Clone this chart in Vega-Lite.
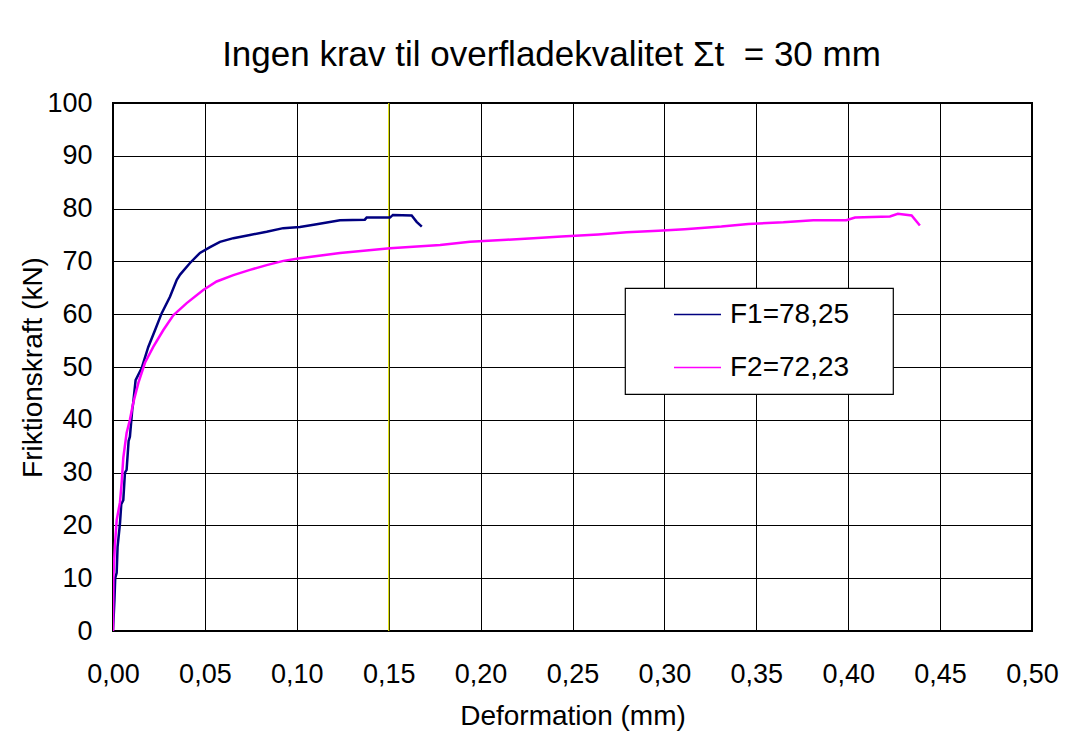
{
  "$schema": "https://vega.github.io/schema/vega-lite/v6.json",
  "width": 919,
  "height": 528,
  "autosize": {"type": "none"},
  "padding": {"left": 113, "top": 103, "right": 39, "bottom": 102},
  "background": "white",
  "title": {
    "text": "Ingen krav til overfladekvalitet Σt\u00a0 = 30 mm",
    "font": "Liberation Sans",
    "fontSize": 35,
    "fontWeight": "normal",
    "color": "black",
    "anchor": "middle",
    "frame": "group",
    "dx": -21,
    "offset": 16
  },
  "config": {
    "locale": {"number": {"decimal": ",", "thousands": ".", "grouping": [3], "currency": ["", " kr."]}},
    "view": {"stroke": "black", "strokeWidth": 2},
    "axis": {
      "labelFont": "Liberation Sans",
      "labelFontSize": 27,
      "labelColor": "black",
      "titleFont": "Liberation Sans",
      "titleFontSize": 28,
      "titleFontWeight": "normal",
      "titleColor": "black",
      "grid": true,
      "gridColor": "black",
      "gridWidth": 1,
      "gridOpacity": 1,
      "domain": false,
      "ticks": false,
      "tickSize": 0
    },
    "legend": {
      "padding": 12,
      "fillColor": "white",
      "strokeColor": "black",
      "strokeWidth": 1.2,
      "symbolType": "stroke",
      "symbolSize": 2209,
      "symbolStrokeWidth": 1.5,
      "symbolOffset": 36,
      "labelFont": "Liberation Sans",
      "labelFontSize": 28,
      "labelColor": "black",
      "labelOffset": 8,
      "labelLimit": 400,
      "rowPadding": 24,
      "clipHeight": 29
    }
  },
  "datasets": {
    "curves": [
      {"series": "F1=78,25", "x": 0, "y": 0},
      {"series": "F1=78,25", "x": 0.0008, "y": 6},
      {"series": "F1=78,25", "x": 0.0012, "y": 10},
      {"series": "F1=78,25", "x": 0.002, "y": 11},
      {"series": "F1=78,25", "x": 0.0025, "y": 16},
      {"series": "F1=78,25", "x": 0.0038, "y": 20.4},
      {"series": "F1=78,25", "x": 0.0045, "y": 24},
      {"series": "F1=78,25", "x": 0.0056, "y": 24.8},
      {"series": "F1=78,25", "x": 0.0065, "y": 30},
      {"series": "F1=78,25", "x": 0.0074, "y": 30.5},
      {"series": "F1=78,25", "x": 0.0085, "y": 36},
      {"series": "F1=78,25", "x": 0.0092, "y": 36.8},
      {"series": "F1=78,25", "x": 0.0105, "y": 42},
      {"series": "F1=78,25", "x": 0.011, "y": 43.2},
      {"series": "F1=78,25", "x": 0.0123, "y": 47.5},
      {"series": "F1=78,25", "x": 0.0156, "y": 49.8},
      {"series": "F1=78,25", "x": 0.0192, "y": 53.8},
      {"series": "F1=78,25", "x": 0.0229, "y": 57},
      {"series": "F1=78,25", "x": 0.0265, "y": 60.2},
      {"series": "F1=78,25", "x": 0.031, "y": 63.3},
      {"series": "F1=78,25", "x": 0.0347, "y": 66.5},
      {"series": "F1=78,25", "x": 0.0365, "y": 67.5},
      {"series": "F1=78,25", "x": 0.0419, "y": 69.7},
      {"series": "F1=78,25", "x": 0.0473, "y": 71.6},
      {"series": "F1=78,25", "x": 0.0528, "y": 72.7},
      {"series": "F1=78,25", "x": 0.0582, "y": 73.7},
      {"series": "F1=78,25", "x": 0.0655, "y": 74.4},
      {"series": "F1=78,25", "x": 0.0745, "y": 75},
      {"series": "F1=78,25", "x": 0.0836, "y": 75.6},
      {"series": "F1=78,25", "x": 0.0926, "y": 76.3},
      {"series": "F1=78,25", "x": 0.1017, "y": 76.5},
      {"series": "F1=78,25", "x": 0.11, "y": 77},
      {"series": "F1=78,25", "x": 0.1235, "y": 77.8},
      {"series": "F1=78,25", "x": 0.137, "y": 77.9},
      {"series": "F1=78,25", "x": 0.138, "y": 78.3},
      {"series": "F1=78,25", "x": 0.1507, "y": 78.3},
      {"series": "F1=78,25", "x": 0.1523, "y": 78.8},
      {"series": "F1=78,25", "x": 0.1625, "y": 78.7},
      {"series": "F1=78,25", "x": 0.1652, "y": 77.5},
      {"series": "F1=78,25", "x": 0.168, "y": 76.6},
      {"series": "F2=72,23", "x": 0, "y": 0},
      {"series": "F2=72,23", "x": 0.0002, "y": 10.2},
      {"series": "F2=72,23", "x": 0.001, "y": 16},
      {"series": "F2=72,23", "x": 0.002, "y": 21},
      {"series": "F2=72,23", "x": 0.0038, "y": 24.4},
      {"series": "F2=72,23", "x": 0.0047, "y": 28},
      {"series": "F2=72,23", "x": 0.0056, "y": 32.8},
      {"series": "F2=72,23", "x": 0.0074, "y": 37.5},
      {"series": "F2=72,23", "x": 0.0092, "y": 40},
      {"series": "F2=72,23", "x": 0.011, "y": 43.2},
      {"series": "F2=72,23", "x": 0.0138, "y": 47},
      {"series": "F2=72,23", "x": 0.0174, "y": 50.8},
      {"series": "F2=72,23", "x": 0.0219, "y": 53.8},
      {"series": "F2=72,23", "x": 0.0274, "y": 57},
      {"series": "F2=72,23", "x": 0.0328, "y": 59.8},
      {"series": "F2=72,23", "x": 0.0401, "y": 62.1},
      {"series": "F2=72,23", "x": 0.0491, "y": 64.6},
      {"series": "F2=72,23", "x": 0.0564, "y": 66.2},
      {"series": "F2=72,23", "x": 0.0655, "y": 67.4},
      {"series": "F2=72,23", "x": 0.0745, "y": 68.4},
      {"series": "F2=72,23", "x": 0.0836, "y": 69.3},
      {"series": "F2=72,23", "x": 0.0927, "y": 70.1},
      {"series": "F2=72,23", "x": 0.1017, "y": 70.6},
      {"series": "F2=72,23", "x": 0.1235, "y": 71.6},
      {"series": "F2=72,23", "x": 0.1507, "y": 72.5},
      {"series": "F2=72,23", "x": 0.178, "y": 73.1},
      {"series": "F2=72,23", "x": 0.1942, "y": 73.7},
      {"series": "F2=72,23", "x": 0.2142, "y": 74.1},
      {"series": "F2=72,23", "x": 0.2287, "y": 74.4},
      {"series": "F2=72,23", "x": 0.244, "y": 74.7},
      {"series": "F2=72,23", "x": 0.264, "y": 75.1},
      {"series": "F2=72,23", "x": 0.2795, "y": 75.5},
      {"series": "F2=72,23", "x": 0.2967, "y": 75.8},
      {"series": "F2=72,23", "x": 0.311, "y": 76.1},
      {"series": "F2=72,23", "x": 0.331, "y": 76.6},
      {"series": "F2=72,23", "x": 0.3457, "y": 77.1},
      {"series": "F2=72,23", "x": 0.3647, "y": 77.4},
      {"series": "F2=72,23", "x": 0.381, "y": 77.8},
      {"series": "F2=72,23", "x": 0.399, "y": 77.8},
      {"series": "F2=72,23", "x": 0.4037, "y": 78.3},
      {"series": "F2=72,23", "x": 0.4227, "y": 78.5},
      {"series": "F2=72,23", "x": 0.427, "y": 79},
      {"series": "F2=72,23", "x": 0.4345, "y": 78.7},
      {"series": "F2=72,23", "x": 0.439, "y": 76.8}
    ],
    "marker": [{"x": 0.15}]
  },
  "layer": [
    {
      "data": {"name": "marker"},
      "mark": {"type": "rule", "color": "#e0e000", "strokeWidth": 1.2},
      "encoding": {
        "x": {"field": "x", "type": "quantitative", "scale": {"domain": [0, 0.5]}}
      }
    },
    {
      "data": {"name": "curves"},
      "mark": {"type": "line", "strokeWidth": 2.5, "clip": true},
      "encoding": {
        "x": {
          "field": "x",
          "type": "quantitative",
          "scale": {"domain": [0, 0.5], "nice": false},
          "axis": {
            "title": "Deformation (mm)",
            "format": ".2f",
            "values": [0, 0.05, 0.1, 0.15, 0.2, 0.25, 0.3, 0.35, 0.4, 0.45, 0.5],
            "labelPadding": 30,
            "titlePadding": 15,
            "labelFlush": false
          }
        },
        "y": {
          "field": "y",
          "type": "quantitative",
          "scale": {"domain": [0, 100], "nice": false},
          "axis": {
            "title": "Friktionskraft (kN)",
            "format": "d",
            "values": [0, 10, 20, 30, 40, 50, 60, 70, 80, 90, 100],
            "labelPadding": 21,
            "titlePadding": -1,
            "labelFlush": false
          }
        },
        "color": {
          "field": "series",
          "type": "nominal",
          "scale": {"domain": ["F1=78,25", "F2=72,23"], "range": ["#000080", "#ff00ff"]},
          "legend": {
            "title": null,
            "orient": "none",
            "legendX": 512,
            "legendY": 185,
            "labelExpr": "datum.label + '\u00a0\u00a0\u00a0\u00a0\u200b'"
          }
        }
      }
    }
  ]
}
